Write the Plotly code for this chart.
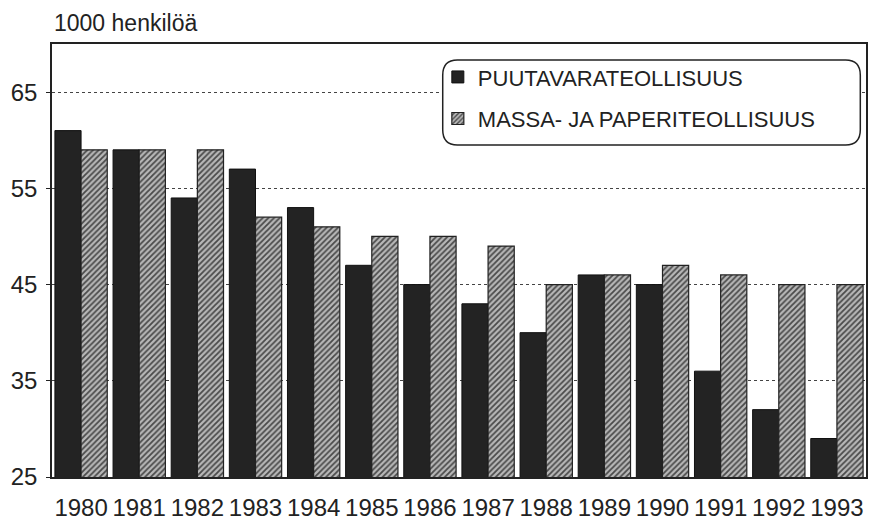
import plotly.graph_objects as go

years = ["1980", "1981", "1982", "1983", "1984", "1985", "1986",
         "1987", "1988", "1989", "1990", "1991", "1992", "1993"]
puutavara = [61, 59, 54, 57, 53, 47, 45, 43, 40, 46, 45, 36, 32, 29]
massa_paperi = [59, 59, 59, 52, 51, 50, 50, 49, 45, 46, 47, 46, 45, 45]
y_ticks = [25, 35, 45, 55, 65]

font = "Liberation Sans, Arial, sans-serif"

fig = go.Figure()
fig.add_trace(go.Bar(
    x=years, y=puutavara, name="PUUTAVARATEOLLISUUS", legendgroup="a",
    marker=dict(color="#232323", line=dict(color="#111111", width=1)),
))
fig.add_trace(go.Bar(
    x=years, y=massa_paperi, name="MASSA- JA PAPERITEOLLISUUS", legendgroup="b",
    marker=dict(color="#9a9a9a", line=dict(color="#222222", width=1.2),
                pattern=dict(shape="/", bgcolor="#b8b8b8", fgcolor="#4a4a4a",
                             size=4, solidity=0.45, fillmode="replace")),
))

# rounded legend frame
x0, x1, y0, y1 = 0.480, 0.993, 0.767, 0.963
rx, ry = 0.018, 0.035
fig.add_shape(type="path", xref="paper", yref="paper",
              path=(f"M {x0+rx} {y1} L {x1-rx} {y1} Q {x1} {y1} {x1} {y1-ry} "
                    f"L {x1} {y0+ry} Q {x1} {y0} {x1-rx} {y0} "
                    f"L {x0+rx} {y0} Q {x0} {y0} {x0} {y0+ry} "
                    f"L {x0} {y1-ry} Q {x0} {y1} {x0+rx} {y1} Z"),
              line=dict(color="#222222", width=1.5), fillcolor="white", layer="above")

fig.add_annotation(text="1000 henkilöä", xref="paper", yref="paper",
                   x=0.0, y=1.0, yshift=6, xanchor="left", yanchor="bottom",
                   showarrow=False, font=dict(family=font, size=23, color="#222"))

fig.update_layout(
    width=871, height=523,
    margin=dict(l=52, r=5, t=44, b=46),
    paper_bgcolor="white", plot_bgcolor="white",
    barmode="group", bargap=0.10, bargroupgap=0.0,
    font=dict(family=font, color="#222222"),
    showlegend=True,
    legend=dict(x=0.474, y=0.972, xanchor="left", yanchor="top",
                bgcolor="rgba(0,0,0,0)", borderwidth=0,
                font=dict(size=22, family=font, color="#222"),
                itemwidth=30, tracegroupgap=10),
)
fig.update_xaxes(showline=True, linecolor="#222", linewidth=1.5, mirror=True,
                 ticks="", tickfont=dict(size=24), ticklabelstandoff=8,
                 automargin=False, showgrid=False)
fig.update_yaxes(range=[25, 70], tickvals=y_ticks, showline=True, linecolor="#222",
                 linewidth=1.5, mirror=True, ticks="outside", ticklen=4,
                 tickcolor="#222", tickfont=dict(size=24), ticklabelstandoff=4,
                 automargin=False,
                 showgrid=True, gridcolor="#444", griddash="dot", gridwidth=1,
                 zeroline=False)

fig.write_html("out.html", config={"displayModeBar": False},
               post_script="document.body.style.margin='0';")
